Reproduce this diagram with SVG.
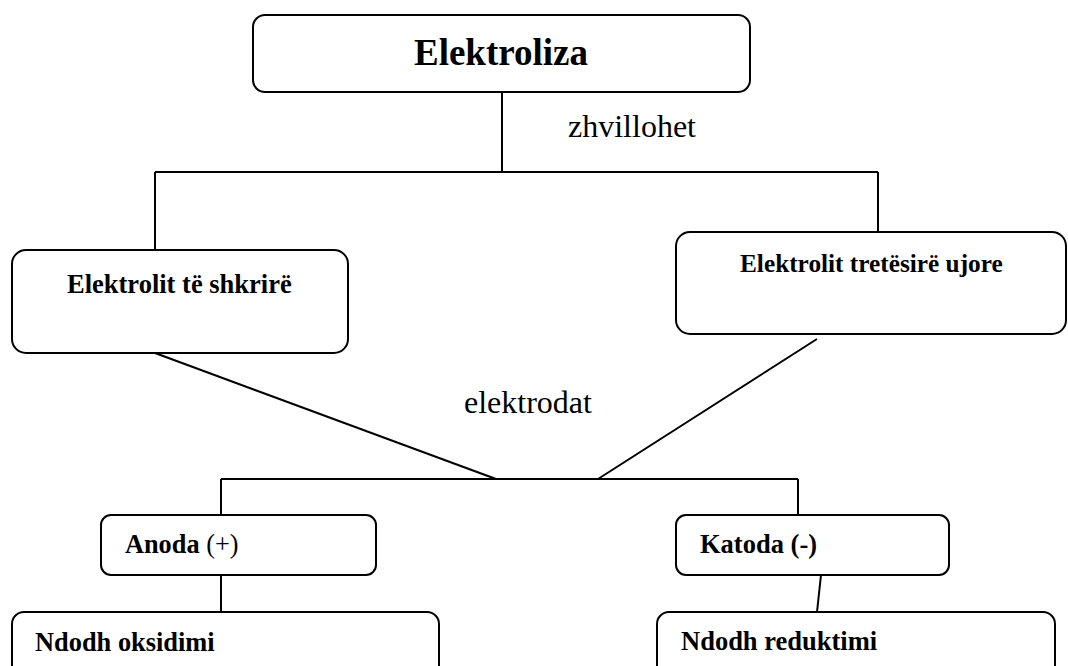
<svg xmlns="http://www.w3.org/2000/svg" width="1068" height="666" viewBox="0 0 1068 666">
<style>
.box{fill:#fff;stroke:#000;stroke-width:2}
.ln{fill:none;stroke:#000;stroke-width:2}
.b{font-family:"Liberation Serif","Times New Roman",serif;font-weight:bold;fill:#000}
.n{font-family:"Liberation Serif","Times New Roman",serif;font-weight:normal;fill:#000}
</style>
<rect width="1068" height="666" fill="#fff"/>
<g id="connectors">
<line class="ln" x1="502" y1="92" x2="502" y2="172"/>
<line class="ln" x1="155" y1="172" x2="878" y2="172"/>
<line class="ln" x1="155" y1="172" x2="155" y2="250"/>
<line class="ln" x1="878" y1="172" x2="878" y2="232"/>
<line class="ln" x1="155" y1="353" x2="496" y2="479"/>
<line class="ln" x1="817" y1="339" x2="598" y2="479"/>
<line class="ln" x1="221" y1="479" x2="798" y2="479"/>
<line class="ln" x1="221" y1="479" x2="221" y2="515"/>
<line class="ln" x1="798" y1="479" x2="798" y2="515"/>
<line class="ln" x1="221" y1="575" x2="221" y2="612"/>
<line class="ln" x1="821" y1="575" x2="817" y2="612"/>
<text class="n" x="568" y="137" font-size="32">zhvillohet</text>
<text class="n" x="464" y="413" font-size="32">elektrodat</text>
</g>
<g id="elektroliza">
<rect class="box" x="253" y="15" width="497" height="77" rx="12"/>
<text class="b" x="501" y="65" font-size="37" text-anchor="middle">Elektroliza</text>
</g>
<g id="shkrire">
<rect class="box" x="12" y="250" width="336" height="103" rx="14"/>
<text class="b" x="67" y="293" font-size="26.5">Elektrolit të shkrirë</text>
</g>
<g id="ujore">
<rect class="box" x="676" y="232" width="390" height="102" rx="14"/>
<text class="b" x="740" y="272" font-size="25.3">Elektrolit tretësirë ujore</text>
</g>
<g id="anoda">
<rect class="box" x="101" y="515" width="275" height="60" rx="10"/>
<text class="b" x="125" y="553" font-size="26.3">Anoda <tspan class="n">(+)</tspan></text>
</g>
<g id="katoda">
<rect class="box" x="676" y="515" width="273" height="60" rx="10"/>
<text class="b" x="700" y="553" font-size="26.5">Katoda (-)</text>
</g>
<g id="oksidimi">
<rect class="box" x="12" y="612" width="427" height="80" rx="12"/>
<text class="b" x="35" y="651" font-size="26.4">Ndodh oksidimi</text>
</g>
<g id="reduktimi">
<rect class="box" x="657" y="612" width="398" height="80" rx="12"/>
<text class="b" x="681" y="650" font-size="26.5">Ndodh reduktimi</text>
</g>
</svg>
